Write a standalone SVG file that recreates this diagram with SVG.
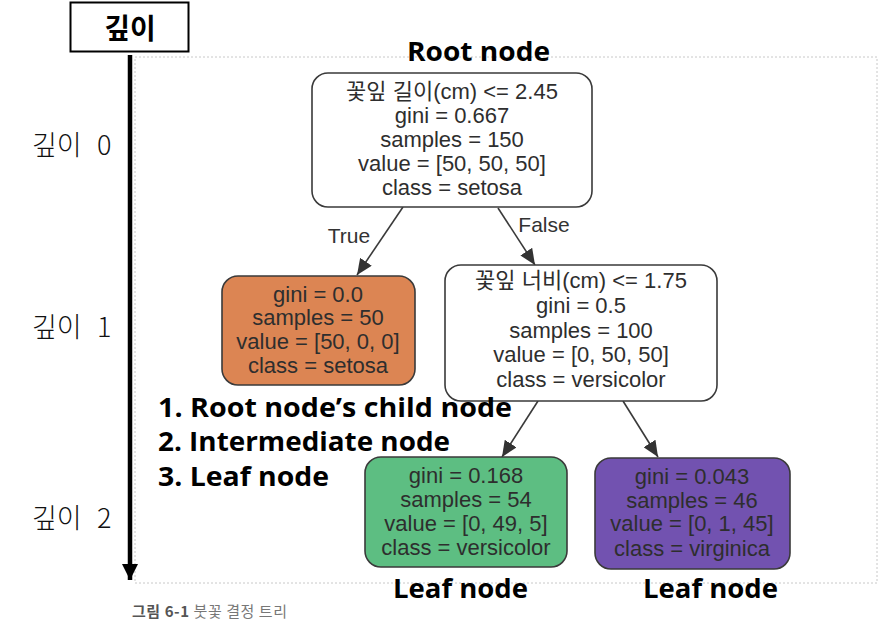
<svg xmlns="http://www.w3.org/2000/svg" width="887" height="624" viewBox="0 0 887 624">
<defs>
<style>
.nt{font-family:"Liberation Sans","Noto Sans CJK KR",Arial,sans-serif;font-size:22px;fill:#2e2e2e;text-anchor:middle}
.lab{font-family:"Open Sans","Noto Sans CJK KR",sans-serif;font-weight:bold;font-size:27px;fill:#000}
.dep{font-family:"Noto Sans CJK KR","Noto Sans",sans-serif;font-size:27px;font-weight:300;fill:#111}
.node{stroke:#3a3a3a;stroke-width:1.6}
.edge{stroke:#3a3a3a;stroke-width:1.6;fill:none;marker-end:url(#ah)}
.el{font-family:"Liberation Sans",Arial,sans-serif;font-size:21px;fill:#333;text-anchor:middle}
</style>
<marker id="ah" markerUnits="userSpaceOnUse" markerWidth="16" markerHeight="14" viewBox="0 0 16 14" refX="16" refY="7" orient="auto">
<path d="M0,0 L16,7 L0,14 Z" fill="#333"/>
</marker>
<marker id="bah" markerUnits="userSpaceOnUse" markerWidth="16" markerHeight="16" viewBox="0 0 16 16" refX="16" refY="8" orient="auto">
<path d="M0,0 L16,8 L0,16 Z" fill="#000"/>
</marker>
</defs>
<rect width="887" height="624" fill="#fff"/>
<rect x="135" y="57" width="742" height="526" fill="none" stroke="#c8c8c8" stroke-width="1" stroke-dasharray="2,2"/>

<g id="depth-axis">
<rect x="70.5" y="2.5" width="118" height="49" fill="#fff" stroke="#000" stroke-width="2"/>
<text x="130" y="39" font-family="Noto Sans CJK KR,sans-serif" font-weight="bold" font-size="28" text-anchor="middle" fill="#000">깊이</text>
<line x1="130" y1="55" x2="130" y2="580" stroke="#000" stroke-width="4.5" marker-end="url(#bah)"/>
<text class="dep" x="32" y="155">깊이 <tspan x="97">0</tspan></text>
<text class="dep" x="32" y="337">깊이 <tspan x="97">1</tspan></text>
<text class="dep" x="32" y="528">깊이 <tspan x="97">2</tspan></text>
</g>

<g id="connectors">
<line class="edge" x1="403" y1="207" x2="357" y2="275"/>
<line class="edge" x1="498" y1="208" x2="535" y2="265"/>
<line class="edge" x1="538" y1="401" x2="502" y2="457"/>
<line class="edge" x1="623" y1="401" x2="658" y2="457"/>
<text class="el" x="349" y="243">True</text>
<text class="el" x="544" y="232">False</text>
</g>

<g id="root">
<rect class="node" x="312" y="73" width="280" height="134" rx="16" fill="#fff"/>
<text class="nt" x="452" y="99">꽃잎 길이(cm) &lt;= 2.45</text>
<text class="nt" x="452" y="123">gini = 0.667</text>
<text class="nt" x="452" y="147">samples = 150</text>
<text class="nt" x="452" y="171">value = [50, 50, 50]</text>
<text class="nt" x="452" y="195">class = setosa</text>
</g>

<g id="setosa">
<rect class="node" x="222" y="276" width="193" height="109" rx="16" fill="#dc8553"/>
<text class="nt" x="318" y="302">gini = 0.0</text>
<text class="nt" x="318" y="325">samples = 50</text>
<text class="nt" x="318" y="349">value = [50, 0, 0]</text>
<text class="nt" x="318" y="373">class = setosa</text>
</g>

<g id="mid">
<rect class="node" x="445" y="265" width="272" height="136" rx="16" fill="#fff"/>
<text class="nt" x="581" y="288">꽃잎 너비(cm) &lt;= 1.75</text>
<text class="nt" x="581" y="313">gini = 0.5</text>
<text class="nt" x="581" y="338">samples = 100</text>
<text class="nt" x="581" y="362">value = [0, 50, 50]</text>
<text class="nt" x="581" y="387">class = versicolor</text>
</g>

<g id="versicolor">
<rect class="node" x="365" y="457" width="202" height="110" rx="16" fill="#5dbe82"/>
<text class="nt" x="466" y="483">gini = 0.168</text>
<text class="nt" x="466" y="507">samples = 54</text>
<text class="nt" x="466" y="531">value = [0, 49, 5]</text>
<text class="nt" x="466" y="555">class = versicolor</text>
</g>

<g id="virginica">
<rect class="node" x="595" y="458" width="195" height="111" rx="16" fill="#7252b0"/>
<text class="nt" x="692" y="484">gini = 0.043</text>
<text class="nt" x="692" y="508">samples = 46</text>
<text class="nt" x="692" y="531">value = [0, 1, 45]</text>
<text class="nt" x="692" y="556">class = virginica</text>
</g>

<g id="labels">
<text class="lab" x="407" y="61" textLength="143" lengthAdjust="spacingAndGlyphs">Root node</text>
<text class="lab" x="158" y="417" textLength="354" lengthAdjust="spacingAndGlyphs">1. Root node’s child node</text>
<text class="lab" x="158" y="451" textLength="292" lengthAdjust="spacingAndGlyphs">2. Intermediate node</text>
<text class="lab" x="158" y="486" textLength="171" lengthAdjust="spacingAndGlyphs">3. Leaf node</text>
<text class="lab" x="393" y="598" textLength="135" lengthAdjust="spacingAndGlyphs">Leaf node</text>
<text class="lab" x="643" y="598" textLength="135" lengthAdjust="spacingAndGlyphs">Leaf node</text>
<text x="132" y="617" font-family="Noto Sans CJK KR,sans-serif" font-size="15" fill="#777" textLength="155" lengthAdjust="spacing"><tspan font-weight="bold" fill="#555">그림 6-1</tspan> 붓꽃 결정 트리</text>
</g>
</svg>
